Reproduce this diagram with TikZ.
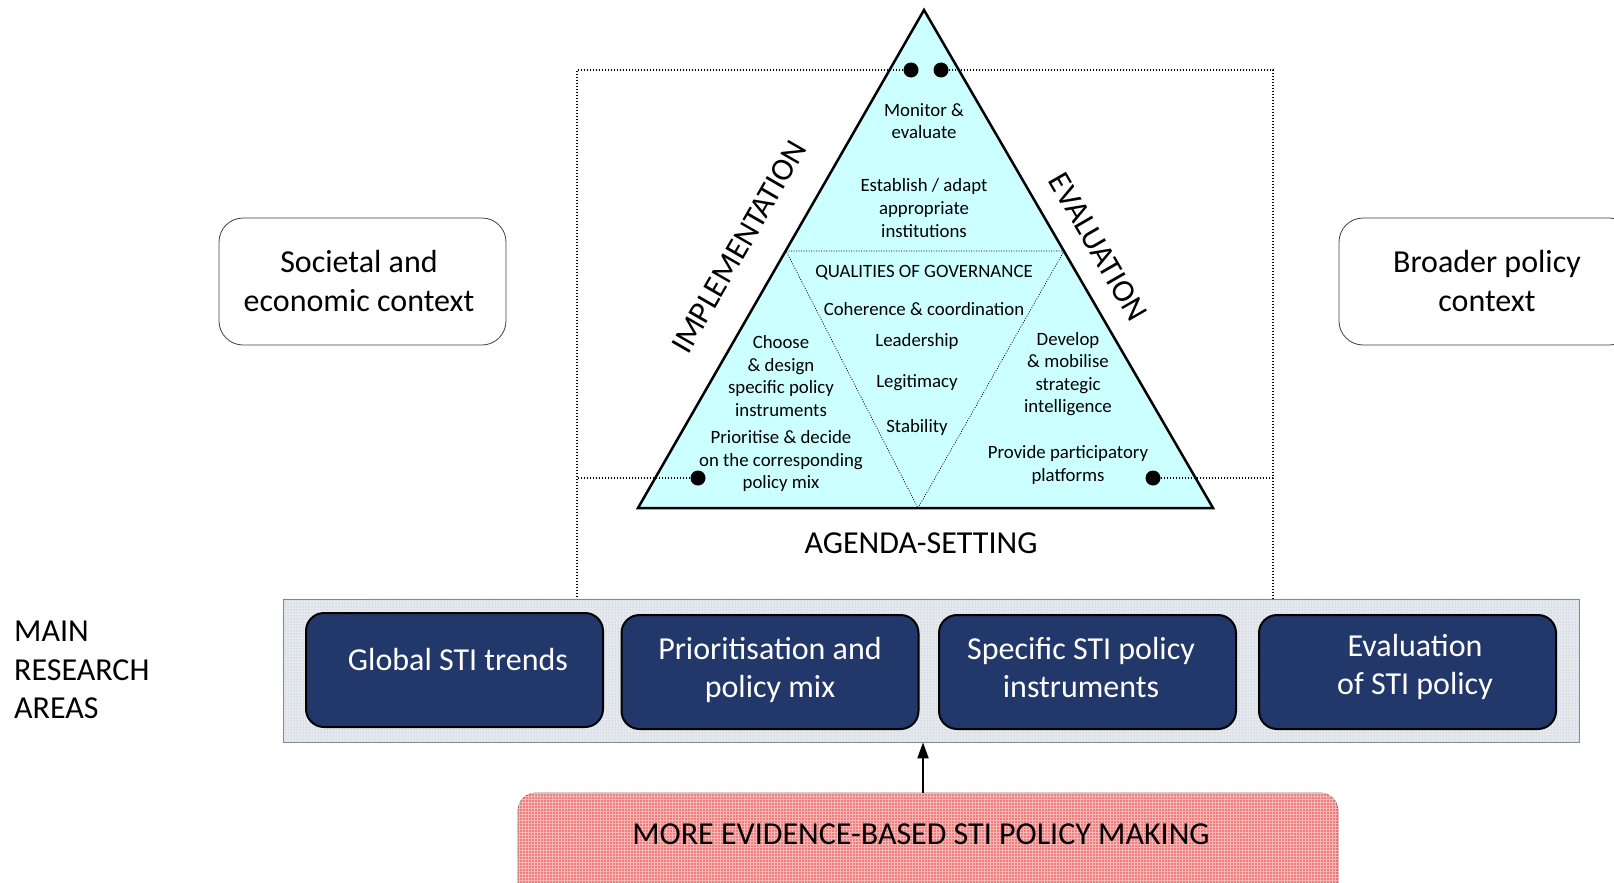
\documentclass[tikz,border=0pt]{standalone}
\usepackage{fontspec}
\setmainfont{Carlito}
\usetikzlibrary{arrows.meta,patterns}
\definecolor{navy}{HTML}{22376A}
\definecolor{cyanfill}{HTML}{CCFFFF}
\definecolor{bandfill}{HTML}{E6EAEF}
\definecolor{banddot}{HTML}{9AA8BC}
\definecolor{bandline}{HTML}{7F8A99}
\definecolor{redfill}{HTML}{F07C7C}
\begin{document}
\begin{tikzpicture}[x=1pt,y=-1pt,
  ctxbox/.style={draw=black!75, line width=0.8pt, rounded corners=24pt, fill=white,
    inner sep=0pt, minimum height=127pt},
  ctxtext/.style={align=center, font=\fontsize{32}{39}\selectfont, inner sep=0pt},
  areabox/.style={draw=black, line width=2pt, fill=navy, rounded corners=18pt,
    minimum width=297pt, minimum height=114pt, inner sep=0pt},
  areatext/.style={text=white, align=center, font=\fontsize{32}{38}\selectfont, inner sep=0pt},
  tritext/.style={align=center, font=\fontsize{18.8}{22.6}\selectfont, inner sep=0pt},
  sidetext/.style={font=\fontsize{32}{36}\selectfont, inner sep=0pt},
  boxline/.style={line width=1.5pt, dash pattern=on 1.5pt off 1.5pt},
  dotmark/.style={circle, fill=black, minimum size=15pt, inner sep=0pt},
]
\useasboundingbox (0,0) rectangle (1614,883);

% triangle
\coordinate (A) at (924,10);
\coordinate (BL) at (638,508);
\coordinate (BR) at (1213,508);
\filldraw[fill=cyanfill, draw=black, line width=2.5pt, line join=miter] (A) -- (BR) -- (BL) -- cycle;
\coordinate (I1) at (786,251);
\coordinate (I2) at (1064,251);
\coordinate (I3) at (918,508);
\draw[line width=0.7pt, dash pattern=on 1pt off 1.5pt] (I1) -- (I2) -- (I3) -- cycle;

% dotted frame
\node[dotmark] (d1) at (911,70) {};
\node[dotmark] (d2) at (941,70) {};
\node[dotmark] (d3) at (698,478) {};
\node[dotmark] (d4) at (1153,478) {};
\coordinate (tl) at (577,70);
\coordinate (tr) at (1273,70);
\coordinate (ml) at (577,478);
\coordinate (mr) at (1273,478);
\coordinate (bl) at (577,599);
\coordinate (br) at (1273,599);
\draw[boxline] (d1) -- (tl) -- (bl);
\draw[boxline] (d2) -- (tr) -- (br);
\draw[boxline] (d3) -- (ml);
\draw[boxline] (d4) -- (mr);

% triangle texts
\node[tritext] (t1) at (924,121) {Monitor \&\\evaluate};
\node[tritext] (t2) at (924,208) {Establish / adapt\\appropriate\\institutions};
\node[tritext] (t3) at (924,273) {QUALITIES OF GOVERNANCE};
\node[tritext] (t4) at (924,309) {Coherence \& coordination};
\node[tritext] (t5) at (917,341) {Leadership};
\node[tritext] (t6) at (917,383) {Legitimacy};
\node[tritext] (t7) at (917,427) {Stability};
\node[tritext] (t8) at (781,376) {Choose\\\& design\\specific policy\\instruments};
\node[tritext] (t9) at (781,461) {Prioritise \& decide\\on the corresponding\\policy mix};
\node[tritext] (t10) at (1068,374) {Develop\\\& mobilise\\strategic\\intelligence};
\node[tritext] (t11) at (1068,465) {Provide participatory\\platforms};

\node[sidetext, rotate=60] (impl) at (739,247) {IMPLEMENTATION};
\node[sidetext, rotate=-60] (eval) at (1098,247) {EVALUATION};
\node[sidetext] (agenda) at (921,543) {AGENDA-SETTING};

% context boxes
\node[ctxbox, minimum width=287pt] (soc) at (362.5,281.5) {};
\node[ctxtext] (soct) at (359,281.5) {Societal and\\economic context};
\node[ctxbox, minimum width=294pt] (bro) at (1486,281.5) {};
\node[ctxtext] (brot) at (1487,281.5) {Broader policy\\context};

% research areas
\node[align=left, anchor=west, font=\fontsize{32}{38.5}\selectfont, inner sep=0pt] (main) at (14,670) {MAIN\\RESEARCH\\AREAS};
\node[draw=bandline, line width=0.8pt, fill=bandfill, minimum width=1296pt, minimum height=143pt, inner sep=0pt] (band) at (931,670.5) {};
\fill[pattern=dots, pattern color=banddot] (band.north west) rectangle (band.south east);
\node[areabox] (b1) at (454.5,670) {};
\node[areabox] (b2) at (770,672) {};
\node[areabox] (b3) at (1087.5,672) {};
\node[areabox] (b4) at (1407.5,672) {};
\node[areatext] (b1t) at (458,660) {Global STI trends};
\node[areatext] (b2t) at (770,670) {Prioritisation and\\policy mix};
\node[areatext] (b3t) at (1081,668) {Specific STI policy\\instruments};
\node[areatext] (b4t) at (1415,667) {Evaluation\\of STI policy};

% evidence box
\node[fill=redfill, draw=black!55, line width=0.8pt, rounded corners=18pt, minimum width=820pt, minimum height=110pt,
  inner sep=0pt] (red) at (928,848) {};
\fill[pattern=grid, pattern color=white!45!redfill, rounded corners=18pt] (red.north west) rectangle (red.south east);
\node[font=\fontsize{32}{38}\selectfont, inner sep=0pt] (redtext) at (921,834) {MORE EVIDENCE-BASED STI POLICY MAKING};
\coordinate (ax) at (923,0);
\draw[line width=2pt, -{Triangle[length=16pt,width=11pt]}] (ax |- red.north) -- (ax |- band.south);
\end{tikzpicture}
\end{document}
